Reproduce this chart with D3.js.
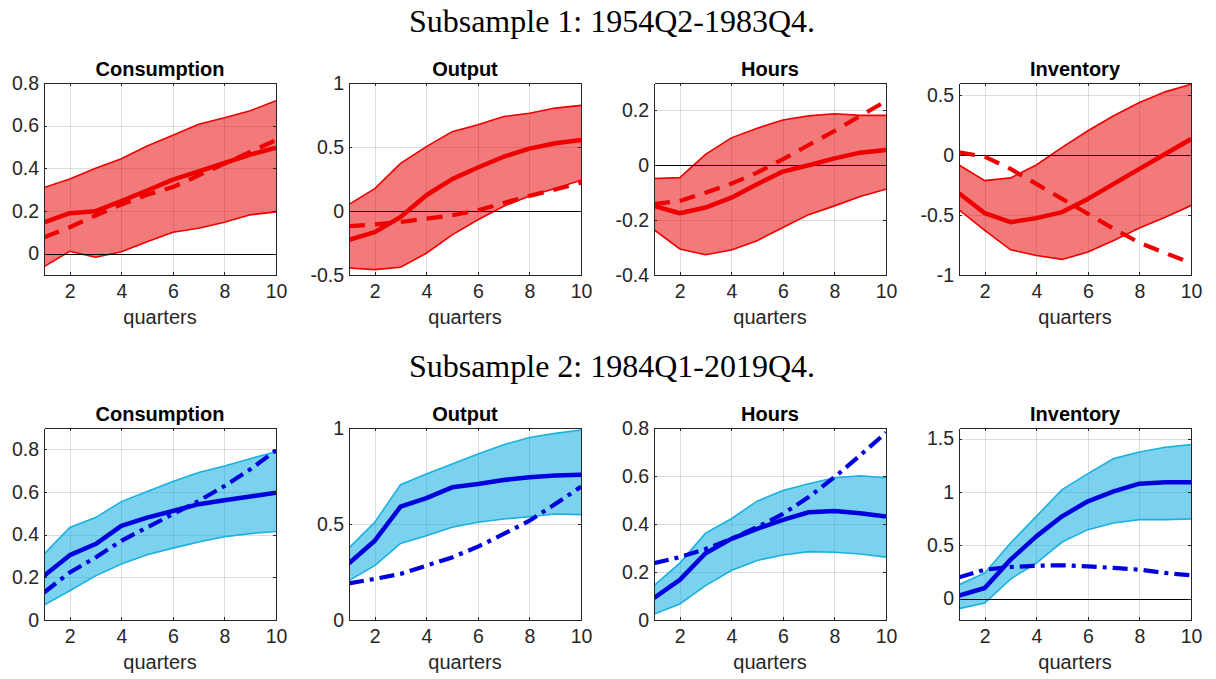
<!DOCTYPE html>
<html>
  <head>
    <meta charset="utf-8">
    <title>Impulse responses by subsample</title>
    <script src="https://cdn.jsdelivr.net/npm/d3@7"></script>
  </head>
  <style>
    body { margin: 0; background: #fff; }
    .grid line { stroke: #000; stroke-opacity: 0.13; shape-rendering: crispEdges; }
    .grid path { display: none; }
    .axis path { stroke: #262626; stroke-width: 1px; shape-rendering: crispEdges; }
    .axis line { stroke: #262626; shape-rendering: crispEdges; }
    .axis text { font-family: "Liberation Sans", Arial, sans-serif; font-size: 19.5px; fill: #262626; }
    .ptitle { font-family: "Liberation Sans", Arial, sans-serif; font-size: 20px; font-weight: bold; fill: #000; }
    .xlabel { font-family: "Liberation Sans", Arial, sans-serif; font-size: 20px; fill: #262626; }
    .suptitle { font-family: "Liberation Serif", "DejaVu Serif", serif; font-size: 32px; fill: #000; }
  </style>
  <body>
    <div id="chart"></div>
    <script>

      var quarters   = [1,2,3,4,5,6,7,8,9,10];
      var titles     = ["Consumption", "Output", "Hours", "Inventory"];
      var rowTitles  = ["Subsample 1: 1954Q2-1983Q4.", "Subsample 2: 1984Q1-2019Q4."];
      var xTicks     = [2,4,6,8,10];

      // subsample 1 : upper band, lower band, median, model (dashed)
      var s1ConsUp   = [0.31,0.35,0.40,0.445,0.505,0.555,0.607,0.637,0.67,0.717];
      var s1ConsLo   = [-0.061,0.011,-0.017,0.009,0.056,0.10,0.119,0.147,0.182,0.196];
      var s1ConsMed  = [0.147,0.19,0.199,0.246,0.296,0.347,0.386,0.425,0.464,0.497];
      var s1ConsMod  = [0.077,0.124,0.179,0.23,0.276,0.312,0.367,0.422,0.477,0.532];

      var s1OutUp    = [0.052,0.175,0.372,0.503,0.62,0.673,0.738,0.764,0.804,0.825];
      var s1OutLo    = [-0.445,-0.458,-0.44,-0.33,-0.186,-0.068,0.037,0.118,0.175,0.241];
      var s1OutMed   = [-0.225,-0.165,-0.047,0.123,0.249,0.34,0.424,0.487,0.529,0.555];
      var s1OutMod   = [-0.118,-0.105,-0.086,-0.06,-0.034,0.005,0.063,0.118,0.168,0.22];

      var s1HrsUp    = [-0.048,-0.045,0.04,0.10,0.135,0.165,0.18,0.188,0.182,0.182];
      var s1HrsLo    = [-0.235,-0.305,-0.326,-0.309,-0.275,-0.227,-0.18,-0.148,-0.114,-0.087];
      var s1HrsMed   = [-0.148,-0.175,-0.154,-0.118,-0.069,-0.023,0.0,0.025,0.046,0.056];
      var s1HrsMod   = [-0.142,-0.13,-0.10,-0.067,-0.027,0.022,0.074,0.125,0.18,0.234];

      var s1InvUp    = [-0.083,-0.213,-0.191,-0.083,0.064,0.202,0.327,0.438,0.526,0.59];
      var s1InvLo    = [-0.457,-0.629,-0.79,-0.837,-0.87,-0.809,-0.712,-0.609,-0.518,-0.421];
      var s1InvMed   = [-0.319,-0.485,-0.56,-0.526,-0.476,-0.366,-0.241,-0.116,0.008,0.133];
      var s1InvMod   = [0.022,-0.014,-0.116,-0.241,-0.366,-0.49,-0.615,-0.731,-0.817,-0.90];

      // subsample 2 : upper band, lower band, median, model (dash-dot)
      var s2ConsUp   = [0.309,0.434,0.48,0.555,0.602,0.649,0.691,0.722,0.756,0.789];
      var s2ConsLo   = [0.07,0.137,0.207,0.262,0.306,0.337,0.366,0.39,0.405,0.415];
      var s2ConsMed  = [0.207,0.304,0.356,0.441,0.48,0.511,0.543,0.561,0.579,0.597];
      var s2ConsMod  = [0.129,0.223,0.293,0.371,0.434,0.496,0.558,0.628,0.706,0.795];

      var s2OutUp    = [0.375,0.509,0.705,0.76,0.813,0.865,0.913,0.951,0.972,0.99];
      var s2OutLo    = [0.205,0.283,0.399,0.439,0.483,0.509,0.526,0.538,0.552,0.549];
      var s2OutMed   = [0.295,0.413,0.59,0.635,0.691,0.708,0.729,0.743,0.752,0.757];
      var s2OutMod   = [0.191,0.214,0.24,0.283,0.326,0.382,0.448,0.517,0.604,0.694];

      var s2HrsUp    = [0.143,0.237,0.362,0.422,0.495,0.54,0.568,0.593,0.601,0.593];
      var s2HrsLo    = [0.025,0.067,0.143,0.206,0.248,0.271,0.285,0.282,0.275,0.262];
      var s2HrsMed   = [0.092,0.167,0.278,0.338,0.38,0.417,0.449,0.454,0.445,0.431];
      var s2HrsMod   = [0.237,0.262,0.296,0.338,0.387,0.442,0.512,0.595,0.686,0.781];

      var s2InvUp    = [0.131,0.241,0.522,0.772,1.022,1.172,1.313,1.375,1.419,1.444];
      var s2InvLo    = [-0.094,-0.041,0.184,0.334,0.531,0.647,0.709,0.741,0.741,0.747];
      var s2InvMed   = [0.028,0.10,0.366,0.584,0.772,0.913,1.006,1.078,1.091,1.091];
      var s2InvMod   = [0.20,0.272,0.297,0.309,0.313,0.303,0.288,0.272,0.241,0.219];

      // y ranges and ticks per panel
      var yDomains   = [[-0.1,0.8],[-0.5,1],[-0.4,0.3],[-1,0.6],
                        [0,0.9],[0,1],[0,0.8],[-0.2,1.6]];
      var yTicks     = [[0,0.2,0.4,0.6,0.8],[-0.5,0,0.5,1],[-0.4,-0.2,0,0.2],[-1,-0.5,0,0.5],
                        [0,0.2,0.4,0.6,0.8],[0,0.5,1],[0,0.2,0.4,0.6,0.8],[0,0.5,1,1.5]];

      var series = [
        [s1ConsUp,s1ConsLo,s1ConsMed,s1ConsMod],[s1OutUp,s1OutLo,s1OutMed,s1OutMod],
        [s1HrsUp,s1HrsLo,s1HrsMed,s1HrsMod],[s1InvUp,s1InvLo,s1InvMed,s1InvMod],
        [s2ConsUp,s2ConsLo,s2ConsMed,s2ConsMod],[s2OutUp,s2OutLo,s2OutMed,s2OutMod],
        [s2HrsUp,s2HrsLo,s2HrsMed,s2HrsMod],[s2InvUp,s2InvLo,s2InvMed,s2InvMod]
      ];

      var rowStyle = [
        { fill: "#e60000", edge: "#ee0000", line: "#ee0000", dash: "16,10" },
        { fill: "#00a8e0", edge: "#1ab0e0", line: "#0000dd", dash: "15,6,4,6" }
      ];

      var W = 1216, H = 679,
          boxW = 232, boxH = 192,
          lefts = [44, 349, 654, 959],
          tops  = [83, 428];

      var svg = d3.select("#chart").append("svg")
                  .attr("width", W).attr("height", H);

      rowTitles.forEach(function(t, r) {
        svg.append("text").attr("class", "suptitle")
           .attr("x", 612).attr("y", tops[r] - 51)
           .attr("text-anchor", "middle")
           .text(t);
      });

      var fmt = function(v) { return String(+v.toFixed(2)); };

      series.forEach(function(s, i) {
        var row = Math.floor(i / 4), col = i % 4, st = rowStyle[row];
        var g = svg.append("g")
                   .attr("transform", "translate(" + lefts[col] + "," + tops[row] + ")");

        var x = d3.scaleLinear().domain([1, 10]).range([0, boxW]);
        var y = d3.scaleLinear().domain(yDomains[i]).range([boxH, 0]);

        // grid
        g.append("g").attr("class", "grid")
         .attr("transform", "translate(0," + boxH + ")")
         .call(d3.axisBottom(x).tickValues(xTicks).tickSize(-boxH).tickFormat(""));
        g.append("g").attr("class", "grid")
         .call(d3.axisLeft(y).tickValues(yTicks[i]).tickSize(-boxW).tickFormat(""));

        var pts = quarters.map(function(q, k) {
          return { q: q, up: s[0][k], lo: s[1][k], med: s[2][k], mod: s[3][k] };
        });

        var clip = "clip" + i;
        g.append("clipPath").attr("id", clip)
         .append("rect").attr("width", boxW).attr("height", boxH);
        var plot = g.append("g").attr("clip-path", "url(#" + clip + ")");

        plot.append("path").datum(pts)
            .attr("fill", st.fill).attr("fill-opacity", 0.52)
            .attr("d", d3.area()
              .x(function(d) { return x(d.q); })
              .y0(function(d) { return y(d.lo); })
              .y1(function(d) { return y(d.up); }));

        ["up", "lo"].forEach(function(key) {
          plot.append("path").datum(pts)
              .attr("fill", "none").attr("stroke", st.edge).attr("stroke-width", 1.6)
              .attr("d", d3.line()
                .x(function(d) { return x(d.q); })
                .y(function(d) { return y(d[key]); }));
        });

        // zero line
        if (yDomains[i][0] < 0) {
          plot.append("line")
              .attr("x1", 0).attr("x2", boxW)
              .attr("y1", Math.round(y(0)) + 0.5).attr("y2", Math.round(y(0)) + 0.5)
              .attr("stroke", "#000").attr("stroke-width", 1);
        }

        plot.append("path").datum(pts)
            .attr("fill", "none").attr("stroke", st.line).attr("stroke-width", 4.2)
            .attr("stroke-dasharray", st.dash)
            .attr("d", d3.line()
              .x(function(d) { return x(d.q); })
              .y(function(d) { return y(d.mod); }));

        plot.append("path").datum(pts)
            .attr("fill", "none").attr("stroke", st.line).attr("stroke-width", 4.5)
            .attr("stroke-linejoin", "round")
            .attr("d", d3.line()
              .x(function(d) { return x(d.q); })
              .y(function(d) { return y(d.med); }));

        // axes, MATLAB style (inward ticks, box)
        g.append("g").attr("class", "axis")
         .attr("transform", "translate(0," + boxH + ")")
         .call(d3.axisBottom(x).tickValues(xTicks).tickSize(-3).tickPadding(9).tickSizeOuter(0).tickFormat(fmt));
        g.append("g").attr("class", "axis")
         .call(d3.axisLeft(y).tickValues(yTicks[i]).tickSize(-3).tickPadding(5).tickSizeOuter(0).tickFormat(fmt));
        g.append("g").attr("class", "axis")
         .call(d3.axisTop(x).tickValues(xTicks).tickSize(-3).tickSizeOuter(0).tickFormat(""));
        g.append("g").attr("class", "axis")
         .attr("transform", "translate(" + boxW + ",0)")
         .call(d3.axisRight(y).tickValues(yTicks[i]).tickSize(-3).tickSizeOuter(0).tickFormat(""));

        g.append("text").attr("class", "ptitle")
         .attr("x", boxW / 2).attr("y", -7)
         .attr("text-anchor", "middle").text(titles[col]);

        g.append("text").attr("class", "xlabel")
         .attr("x", boxW / 2).attr("y", boxH + 49)
         .attr("text-anchor", "middle").text("quarters");
      });

    </script>
  </body>
</html>
